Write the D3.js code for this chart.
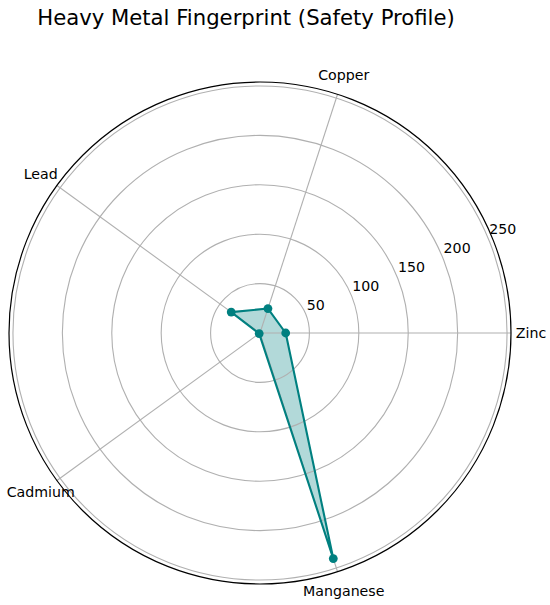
<!DOCTYPE html>
<html><head><meta charset="utf-8">
<script src="https://cdn.jsdelivr.net/npm/d3@7"></script>
<style>body{margin:0;background:#fff}svg{display:block}text{font-family:"DejaVu Sans",sans-serif;fill:#000}</style>
</head><body>
<script>
const categories = ["Zinc", "Copper", "Lead", "Cadmium", "Manganese"];
const values = [26, 26, 36, 1, 240];
const radialTicks = [50, 100, 150, 200, 250];
const radialMax = 254;
const title = "Heavy Metal Fingerprint (Safety Profile)";

const W = 550, H = 605, cx = 260, cy = 333, R = 251;
const svg = d3.select("body").append("svg").attr("width", W).attr("height", H);
const r = d3.scaleLinear().domain([0, radialMax]).range([0, R]);
const ang = d3.scalePoint().domain(categories.concat(["_end"])).range([0, 2 * Math.PI]);
const pt = (a, rad) => [cx + rad * Math.cos(a), cy - rad * Math.sin(a)];

const g = svg.append("g");
const poly = categories.map((c, i) => pt(ang(c), r(values[i])));
g.append("path").attr("d", d3.line()(poly) + "Z").attr("fill", "#008080").attr("fill-opacity", 0.3).attr("stroke", "none");
g.selectAll("circle.grid").data(radialTicks).join("circle").attr("class", "grid")
  .attr("cx", cx).attr("cy", cy).attr("r", d => r(d)).attr("fill", "none").attr("stroke", "#b0b0b0").attr("stroke-width", 1.1);
g.selectAll("line.spoke").data(categories).join("line").attr("class", "spoke")
  .attr("x1", cx).attr("y1", cy)
  .attr("x2", d => pt(ang(d), R)[0]).attr("y2", d => pt(ang(d), R)[1])
  .attr("stroke", "#b0b0b0").attr("stroke-width", 1.1);
g.append("circle").attr("cx", cx).attr("cy", cy).attr("r", R).attr("fill", "none").attr("stroke", "#000").attr("stroke-width", 1.2);
g.append("path").attr("d", d3.line()(poly) + "Z").attr("fill", "none").attr("stroke", "#008080").attr("stroke-width", 2.1).attr("stroke-linejoin", "round");
g.selectAll("circle.pt").data(poly).join("circle").attr("class", "pt")
  .attr("cx", d => d[0]).attr("cy", d => d[1]).attr("r", 4.4).attr("fill", "#008080");
const la = 22.5 * Math.PI / 180;
g.selectAll("text.rl").data(radialTicks).join("text").attr("class", "rl")
  .attr("x", d => pt(la, r(d))[0] + 1).attr("y", d => pt(la, r(d))[1] - 4)
  .attr("font-size", "14.2px").text(d => d);
g.selectAll("text.cl").data(categories).join("text").attr("class", "cl")
  .attr("x", d => pt(ang(d), R + 20)[0]).attr("y", d => pt(ang(d), R + 20)[1])
  .attr("text-anchor", "middle").attr("dominant-baseline", "central")
  .attr("font-size", "14.2px").text(d => d);
svg.append("text").attr("x", 246).attr("y", 24.5).attr("text-anchor", "middle")
  .attr("font-size", "21.2px").text(title);
</script>
</body></html>
